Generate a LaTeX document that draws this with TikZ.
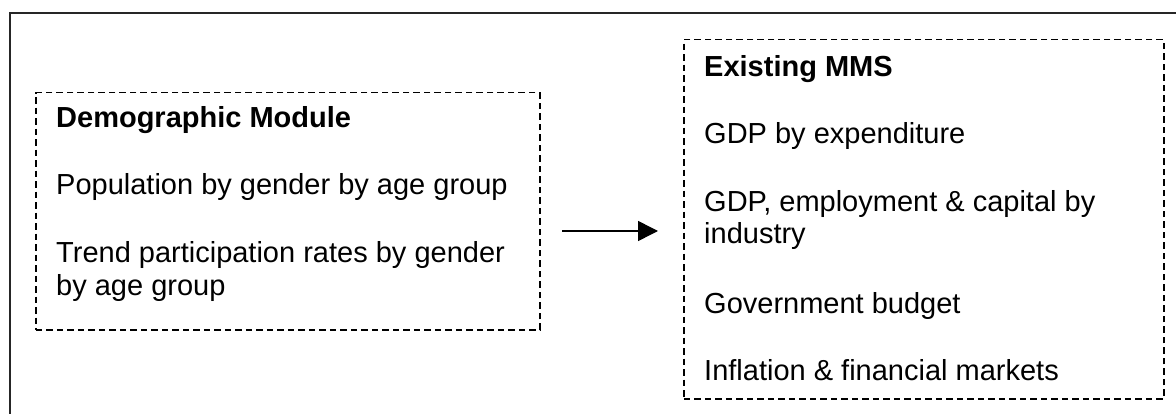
\documentclass[tikz,border=0pt]{standalone}
\usepackage{fontspec}
\setmainfont{Liberation Sans}
\usetikzlibrary{arrows.meta}
\begin{document}
\begin{tikzpicture}[x=1pt,y=-1pt,
  txt/.style={font=\fontsize{29}{33}\selectfont, anchor=base west, inner sep=0pt},
  headtxt/.style={font=\fontsize{29}{33}\selectfont\bfseries, anchor=base west, inner sep=0pt},
  dbox/.style={draw, dash pattern=on 6.5pt off 4pt, line width=1.5pt, inner sep=0pt, anchor=north west},
  framestyle/.style={draw=black!85, line width=2pt},
  link/.style={line width=1.5pt, -{Triangle[length=20pt,width=20pt]}}]
\useasboundingbox (0,0) rectangle (1176,414);
\clip (0,0) rectangle (1176,414);
\fill[white] (0,0) rectangle (1176,414);
% outer frame (cropped at right and bottom)
\draw[framestyle] (1190,13) -- (10,13) -- (10,430);
% boxes
\node[dbox, minimum width=504pt, minimum height=237pt] (lbox) at (35,92) {};
\node[dbox, minimum width=480pt, minimum height=359pt] (rbox) at (683,39) {};
% left box texts
\node[headtxt] (l1) at (56,128) {Demographic Module};
\node[txt] (l2) at (56,195) {Population by gender by age group};
\node[txt] (l3) at (56,263) {Trend participation rates by gender};
\node[txt] (l4) at (56,296) {by age group};
% right box texts
\node[headtxt] (r1) at (704,77) {Existing MMS};
\node[txt] (r2) at (704,144) {GDP by expenditure};
\node[txt] (r3) at (704,212) {GDP, employment \& capital by};
\node[txt] (r4) at (704,244) {industry};
\node[txt] (r5) at (704,313) {Government budget};
\node[txt] (r6) at (704,380) {Inflation \& financial markets};
% arrow
\coordinate (a1) at (562,231);
\coordinate (a2) at (658,231);
\draw[link] (a1) -- (a2);
\end{tikzpicture}
\end{document}
